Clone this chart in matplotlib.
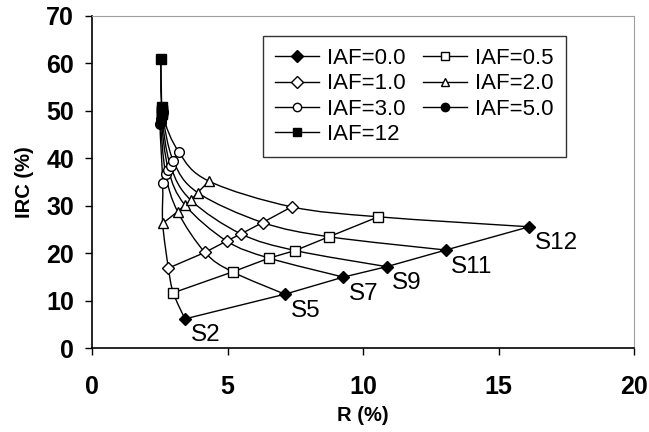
import numpy as np
import matplotlib.pyplot as plt
from matplotlib.path import Path
from matplotlib.patches import PathPatch

plt.rcParams['font.family'] = ['Liberation Sans', 'DejaVu Sans']

# S labels (one point per S in each IAF series)
s_labels = ['S2', 'S5', 'S7', 'S9', 'S11', 'S12']
iaf_labels = ['IAF=0.0', 'IAF=0.5', 'IAF=1.0', 'IAF=2.0', 'IAF=3.0', 'IAF=5.0', 'IAF=12']

# R (%) and IRC (%), per IAF, ordered S2..S12
r_iaf00 = [3.42, 7.11, 9.27, 10.87, 13.05, 16.13]
irc_iaf00 = [6.2, 11.4, 15.0, 17.2, 20.7, 25.6]
r_iaf05 = [2.99, 5.18, 6.53, 7.49, 8.74, 10.56]
irc_iaf05 = [11.7, 16.1, 19.0, 20.6, 23.5, 27.7]
r_iaf10 = [2.81, 4.16, 4.96, 5.49, 6.29, 7.36]
irc_iaf10 = [16.9, 20.2, 22.6, 24.1, 26.5, 29.8]
r_iaf20 = [2.60, 3.15, 3.42, 3.64, 3.89, 4.31]
irc_iaf20 = [26.3, 28.8, 30.2, 31.2, 32.8, 35.2]
r_iaf30 = [2.60, 2.71, 2.81, 2.89, 2.99, 3.20]
irc_iaf30 = [34.8, 36.7, 37.6, 38.4, 39.5, 41.3]
r_iaf50 = [2.50, 2.52, 2.54, 2.56, 2.58, 2.60]
irc_iaf50 = [47.2, 47.7, 48.2, 48.7, 49.2, 49.7]
r_iaf12 = [2.58, 2.58, 2.58, 2.57, 2.56, 2.53]
irc_iaf12 = [49.4, 49.7, 50.0, 50.3, 50.8, 61.0]

all_r = [r_iaf00, r_iaf05, r_iaf10, r_iaf20, r_iaf30, r_iaf50, r_iaf12]
all_irc = [irc_iaf00, irc_iaf05, irc_iaf10, irc_iaf20, irc_iaf30, irc_iaf50, irc_iaf12]

# marker style per IAF
markers = ['D', 's', 'D', '^', 'o', 'o', 's']
faces = ['black', 'white', 'white', 'white', 'white', 'black', 'black']
msizes = [6.5, 6.5, 6.5, 7.5, 7, 7, 7]


def smooth_path(xs, ys):
    # excel-like smoothed line: cubic bezier through the points
    p = np.column_stack([xs, ys])
    n = len(p)
    verts = [p[0]]
    codes = [Path.MOVETO]
    for i in range(n - 1):
        p0 = p[max(i - 1, 0)]
        p3 = p[min(i + 2, n - 1)]
        c1 = p[i] + (p[i + 1] - p0) / 6.0
        c2 = p[i + 1] - (p3 - p[i]) / 6.0
        verts += [c1, c2, p[i + 1]]
        codes += [Path.CURVE4] * 3
    return Path(verts, codes)


fig = plt.figure(figsize=(6.49, 4.32), dpi=100)
ax = fig.add_axes([0.1422, 0.1937, 0.8347, 0.7693])

# curves of constant S across IAF
for j in range(len(s_labels)):
    xs = [r[j] for r in all_r]
    ys = [c[j] for c in all_irc]
    ax.add_patch(PathPatch(smooth_path(xs, ys), fill=False, edgecolor='black', lw=1.0, zorder=2))

# IAF series
lines = []
for k in range(len(iaf_labels)):
    ln, = ax.plot(all_r[k], all_irc[k], color='black', lw=1.0, marker=markers[k],
                  markersize=msizes[k], markerfacecolor=faces[k], markeredgecolor='black',
                  markeredgewidth=1.0, label=iaf_labels[k], zorder=3)
    lines.append(ln)

# S labels next to IAF=0.0 points
for j, s in enumerate(s_labels):
    ax.annotate(s, (r_iaf00[j], irc_iaf00[j]), xytext=(4, -4), textcoords='offset points',
                ha='left', va='top', fontsize=17.5)

ax.set_xlim(0, 20)
ax.set_ylim(0, 70)
ax.set_xticks([0, 5, 10, 15, 20])
ax.set_yticks(range(0, 71, 10))
ax.tick_params(direction='out', length=5, width=1, labelsize=18)
ax.tick_params(axis='x', pad=14)
ax.tick_params(axis='y', pad=8)
for lab in ax.get_xticklabels() + ax.get_yticklabels():
    lab.set_fontweight('bold')
ax.spines['top'].set_color('#a0a0a0')
ax.spines['right'].set_color('#a0a0a0')
ax.spines['left'].set_linewidth(1.2)
ax.spines['bottom'].set_linewidth(1.2)

ax.set_xlabel('R (%)', fontsize=14.5, fontweight='bold', labelpad=5)
ax.set_ylabel('IRC (%)', fontsize=14.5, fontweight='bold', labelpad=9)

order = [0, 2, 4, 6, 1, 3, 5]
leg = ax.legend([lines[i] for i in order], [iaf_labels[i] for i in order], ncol=2,
                loc='upper left', bbox_to_anchor=(0.3146, 0.9407), borderaxespad=0,
                fontsize=16, fancybox=False, frameon=True, edgecolor='black',
                handlelength=2.0, handletextpad=0.36, columnspacing=0.75,
                labelspacing=0.2, borderpad=0.55)
leg.get_frame().set_linewidth(1.0)
for h in leg.legend_handles:
    h.set_markersize(6)

fig.savefig('out.png', dpi=100)
